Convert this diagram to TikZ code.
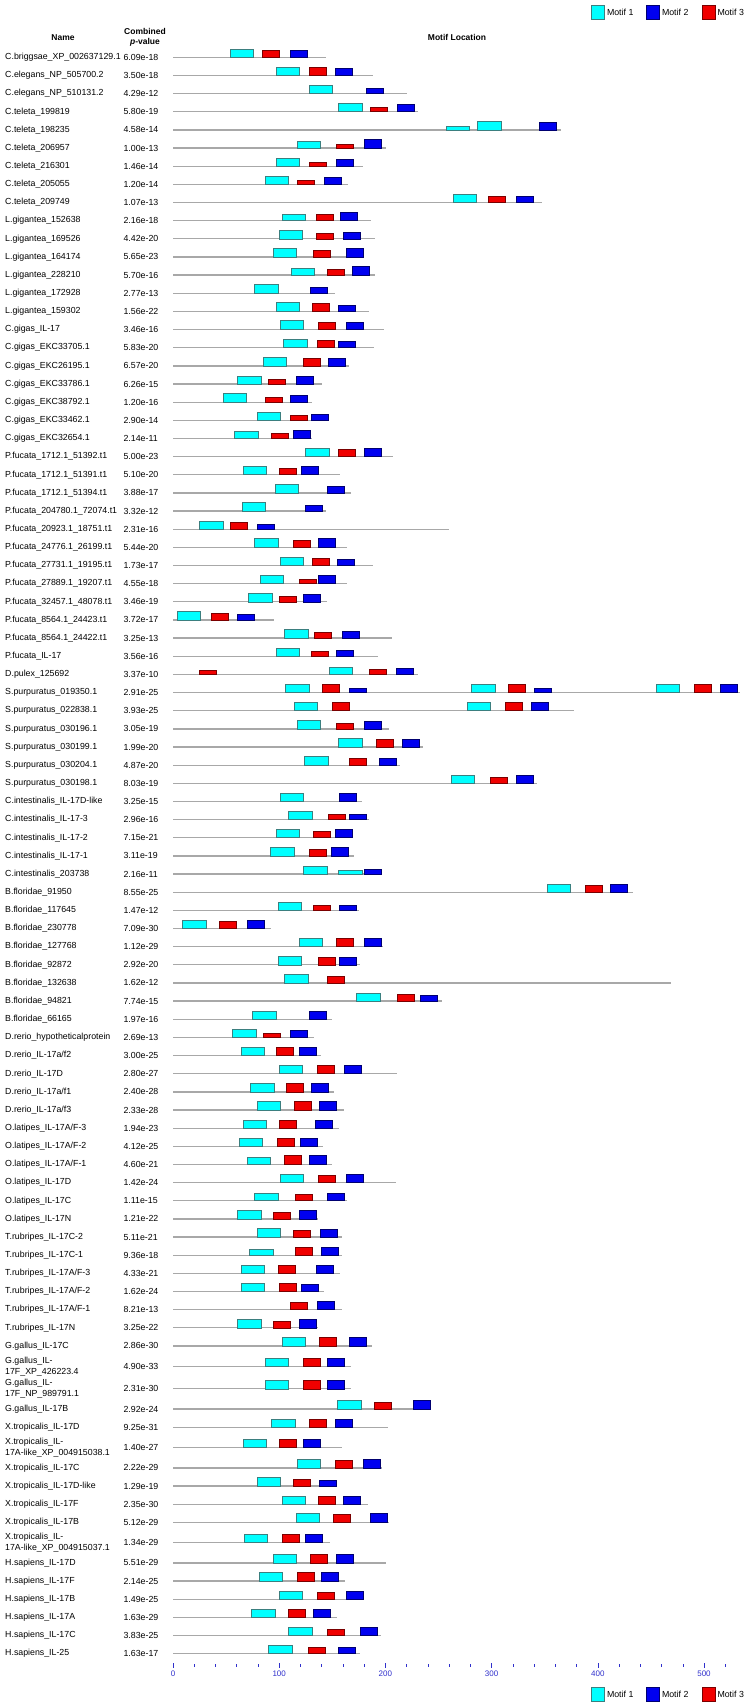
\documentclass[tikz,border=0pt]{standalone}
\usepackage{fontspec}
\setmainfont{Liberation Sans}
\usetikzlibrary{positioning}
\definecolor{mCyan}{HTML}{00FFFF}
\definecolor{mCyanRule}{HTML}{3B7F7F}
\definecolor{mBlue}{HTML}{0000F0}
\definecolor{mBlueRule}{HTML}{000070}
\definecolor{mRed}{HTML}{F00000}
\definecolor{mRedRule}{HTML}{7A0000}
\definecolor{seqGrey}{HTML}{A8A8A8}
\definecolor{axBlue}{HTML}{3030CC}

\begin{document}
\begin{tikzpicture}[x=1pt,y=-1pt,
  nm/.style={anchor=west,align=left,inner sep=0pt,font=\fontsize{8.8}{11}\selectfont},
  pv/.style={anchor=west,inner sep=0pt,font=\fontsize{8.8}{11}\selectfont},
  hd/.style={inner sep=0pt,align=center,font=\fontsize{8.5}{10}\selectfont\bfseries},
  sq/.style={seqGrey,line width=1.3pt},
  bx/.style={anchor=south west,inner sep=0pt,outer sep=0pt,line width=0.6pt},
  m1/.style={bx,draw=mCyanRule,fill=mCyan,minimum width=23.4pt},
  m2/.style={bx,draw=mBlueRule,fill=mBlue,minimum width=17pt},
  m3/.style={bx,draw=mRedRule,fill=mRed,minimum width=17pt},
  tk/.style={axBlue,line width=0.5pt},
  ax/.style={text=axBlue,inner sep=0pt,font=\fontsize{8}{9}\selectfont},
  lg/.style={line width=0.6pt,minimum width=13pt,minimum height=14pt,inner sep=0pt},
  lt/.style={inner sep=0pt,font=\fontsize{8.8}{11}\selectfont}]
\useasboundingbox (0,0) rectangle (750,1706);

% headers
\node[hd] (hName) at (63,37.3) {Name};
\node[hd] (hPval) at (145,37.3) {Combined\\\textit{p}-value};
\node[hd] (hLoc) at (457,37.3) {Motif Location};

% legends, top and bottom
\foreach \ly/\tag in {12/t,1694/b}{
  \node[lg,draw=mCyanRule,fill=mCyan] (\tag1) at (598,\ly) {};
  \node[lt,right=2pt of \tag1] (\tag1l) {Motif 1};
  \node[lg,draw=mBlueRule,fill=mBlue] (\tag2) at (653,\ly) {};
  \node[lt,right=2pt of \tag2] (\tag2l) {Motif 2};
  \node[lg,draw=mRedRule,fill=mRed] (\tag3) at (708.5,\ly) {};
  \node[lt,right=2pt of \tag3] (\tag3l) {Motif 3};
}

% sequences: name / p-value / length / {motif/start/height}
\foreach \nm/\pv/\len/\mot [count=\i] in {
 {C.briggsae\_XP\_002637129.1}/6.09e-18/144/{1/54/24,3/84/22,2/110/22},
 {C.elegans\_NP\_505700.2}/3.50e-18/188/{1/97/24,3/128/24,2/153/22},
 {C.elegans\_NP\_510131.2}/4.29e-12/220/{1/128/24,2/182/16},
 {C.teleta\_199819}/5.80e-19/231/{1/156/25,3/186/13,2/211/23},
 {C.teleta\_198235}/4.58e-14/365/{1/257/12,1/287/25,2/345/22},
 {C.teleta\_206957}/1.00e-13/201/{1/117/19,3/154/12,2/180/25},
 {C.teleta\_216301}/1.46e-14/179/{1/97/25,3/128/13,2/154/20},
 {C.teleta\_205055}/1.20e-14/165/{1/87/24,3/117/11,2/142/20},
 {C.teleta\_209749}/1.07e-13/347/{1/264/25,3/297/18,2/323/20},
 {L.gigantea\_152638}/2.16e-18/186/{1/103/20,3/135/20,2/158/24},
 {L.gigantea\_169526}/4.42e-20/190/{1/100/25,3/135/17,2/160/19},
 {L.gigantea\_164174}/5.65e-23/179/{1/94/26,3/132/20,2/163/26},
 {L.gigantea\_228210}/5.70e-16/190/{1/111/20,3/145/18,2/169/26},
 {L.gigantea\_172928}/2.77e-13/153/{1/77/26,2/129/18},
 {L.gigantea\_159302}/1.56e-22/185/{1/97/27,3/131/25,2/156/19},
 {C.gigas\_IL-17}/3.46e-16/199/{1/101/28,3/137/21,2/163/21},
 {C.gigas\_EKC33705.1}/5.83e-20/189/{1/104/26,3/136/22,2/156/20},
 {C.gigas\_EKC26195.1}/6.57e-20/166/{1/85/25,3/123/23,2/146/22},
 {C.gigas\_EKC33786.1}/6.26e-15/140/{1/61/24,3/90/15,2/116/22},
 {C.gigas\_EKC38792.1}/1.20e-16/131/{1/47/26,3/87/15,2/110/21},
 {C.gigas\_EKC33462.1}/2.90e-14/147/{1/79/24,3/110/16,2/130/19},
 {C.gigas\_EKC32654.1}/2.14e-11/131/{1/58/21,3/93/14,2/113/23},
 {P.fucata\_1712.1\_51392.t1}/5.00e-23/207/{1/125/25,3/156/22,2/180/26},
 {P.fucata\_1712.1\_51391.t1}/5.10e-20/157/{1/66/26,3/100/19,2/121/24},
 {P.fucata\_1712.1\_51394.t1}/3.88e-17/168/{1/96/26,2/145/20},
 {P.fucata\_204780.1\_72074.t1}/3.32e-12/144/{1/65/25,2/125/17},
 {P.fucata\_20923.1\_18751.t1}/2.31e-16/260/{1/25/25,3/54/21,2/79/15},
 {P.fucata\_24776.1\_26199.t1}/5.44e-20/164/{1/77/26,3/113/20,2/137/26},
 {P.fucata\_27731.1\_19195.t1}/1.73e-17/188/{1/101/26,3/131/22,2/155/20},
 {P.fucata\_27889.1\_19207.t1}/4.55e-18/164/{1/82/26,3/119/13,2/137/26},
 {P.fucata\_32457.1\_48078.t1}/3.46e-19/145/{1/71/26,3/100/18,2/123/22},
 {P.fucata\_8564.1\_24423.t1}/3.72e-17/95/{1/4/26,3/36/19,2/61/18},
 {P.fucata\_8564.1\_24422.t1}/3.25e-13/206/{1/105/26,3/133/16,2/159/20},
 {P.fucata\_IL-17}/3.56e-16/193/{1/97/25,3/130/14,2/154/19},
 {D.pulex\_125692}/3.37e-10/231/{3/25/13,1/147/21,3/185/14,2/210/18},
 {S.purpuratus\_019350.1}/2.91e-25/534/{1/106/26,3/141/26,2/166/12,1/281/26,3/316/26,2/340/12,1/455/26,3/491/26,2/515/26},
 {S.purpuratus\_022838.1}/3.93e-25/378/{1/114/26,3/150/26,1/277/26,3/313/26,2/337/24},
 {S.purpuratus\_030196.1}/3.05e-19/203/{1/117/26,3/154/18,2/180/24},
 {S.purpuratus\_030199.1}/1.99e-20/235/{1/156/26,3/191/24,2/216/22},
 {S.purpuratus\_030204.1}/4.87e-20/214/{1/124/26,3/166/20,2/194/22},
 {S.purpuratus\_030198.1}/8.03e-19/343/{1/262/24,3/299/19,2/323/24},
 {C.intestinalis\_IL-17D-like}/3.25e-15/178/{1/101/24,2/157/24},
 {C.intestinalis\_IL-17-3}/2.96e-16/185/{1/109/25,3/146/16,2/166/15},
 {C.intestinalis\_IL-17-2}/7.15e-21/168/{1/97/25,3/132/19,2/153/25},
 {C.intestinalis\_IL-17-1}/3.11e-19/170/{1/92/26,3/128/20,2/149/25},
 {C.intestinalis\_203738}/2.16e-11/197/{1/123/24,1/156/12,2/180/14},
 {B.floridae\_91950}/8.55e-25/433/{1/352/25,3/388/20,2/412/25},
 {B.floridae\_117645}/1.47e-12/175/{1/99/25,3/132/14,2/157/14},
 {B.floridae\_230778}/7.09e-30/92/{1/9/25,3/44/22,2/70/25},
 {B.floridae\_127768}/1.12e-29/198/{1/119/25,3/154/25,2/180/25},
 {B.floridae\_92872}/2.92e-20/176/{1/99/25,3/137/23,2/157/23},
 {B.floridae\_132638}/1.62e-12/469/{1/105/25,3/145/20},
 {B.floridae\_94821}/7.74e-15/253/{1/173/22,3/211/21,2/233/18},
 {B.floridae\_66165}/1.97e-16/150/{1/75/25,2/128/25},
 {D.rerio\_hypotheticalprotein}/2.69e-13/133/{1/56/24,3/85/13,2/110/20},
 {D.rerio\_IL-17a/f2}/3.00e-25/139/{1/64/25,3/97/25,2/119/25},
 {D.rerio\_IL-17D}/2.80e-27/211/{1/100/26,3/136/24,2/161/26},
 {D.rerio\_IL-17a/f1}/2.40e-28/152/{1/73/25,3/107/25,2/130/25},
 {D.rerio\_IL-17a/f3}/2.33e-28/161/{1/79/26,3/114/26,2/138/26},
 {O.latipes\_IL-17A/F-3}/1.94e-23/156/{1/66/25,3/100/24,2/134/25},
 {O.latipes\_IL-17A/F-2}/4.12e-25/141/{1/62/25,3/98/25,2/120/25},
 {O.latipes\_IL-17A/F-1}/4.60e-21/150/{1/70/21,3/105/26,2/128/26},
 {O.latipes\_IL-17D}/1.42e-24/210/{1/101/25,3/137/21,2/163/25},
 {O.latipes\_IL-17C}/1.11e-15/164/{1/77/22,3/115/18,2/145/21},
 {O.latipes\_IL-17N}/1.21e-22/137/{1/61/25,3/94/20,2/119/25},
 {T.rubripes\_IL-17C-2}/5.11e-21/159/{1/79/25,3/113/19,2/139/22},
 {T.rubripes\_IL-17C-1}/9.36e-18/159/{1/72/18,3/115/23,2/140/25},
 {T.rubripes\_IL-17A/F-3}/4.33e-21/157/{1/64/25,3/99/24,2/135/25},
 {T.rubripes\_IL-17A/F-2}/1.62e-24/142/{1/64/25,3/100/25,2/121/22},
 {T.rubripes\_IL-17A/F-1}/8.21e-13/159/{3/110/21,2/136/25},
 {T.rubripes\_IL-17N}/3.25e-22/137/{1/61/26,3/94/20,2/119/25},
 {G.gallus\_IL-17C}/2.86e-30/187/{1/103/26,3/138/25,2/166/25}}{
  \pgfmathsetmacro\y{57.3+(\i-1)*18.15}
  \node[nm] (n\i) at (5,\y) {\nm};
  \node[pv] (p\i) at (123.4,\y) {\pv};
  \begin{scope}[xshift=173pt,x=1.062pt]
    \draw[sq] (0,\y) -- (\len,\y);
    \foreach \mk/\ms/\mh [count=\j] in \mot {
      \pgfmathsetmacro\hh{\mh/3}
      \node[m\mk,minimum height=\hh pt] (b\i-\j) at (\ms,\y) {};
    }
  \end{scope}
}

% rows with two-line names sit a little further apart
\foreach \y/\nm/\pv/\len/\mot [count=\i from 73] in {
 1366.3/{G.gallus\_IL-\\17F\_XP\_426223.4}/4.90e-33/168/{1/87/24,3/123/24,2/145/23},
 1388.8/{G.gallus\_IL-\\17F\_NP\_989791.1}/2.31e-30/168/{1/87/25,3/123/25,2/145/25},
 1409.1/{G.gallus\_IL-17B}/2.92e-24/242/{1/155/25,3/190/19,2/226/25},
 1427.25/{X.tropicalis\_IL-17D}/9.25e-31/202/{1/93/25,3/128/25,2/153/25},
 1447.55/{X.tropicalis\_IL-\\17A-like\_XP\_004915038.1}/1.40e-27/159/{1/66/26,3/100/26,2/123/26},
 1467.85/{X.tropicalis\_IL-17C}/2.22e-29/197/{1/117/25,3/153/23,2/179/25},
 1486.0/{X.tropicalis\_IL-17D-like}/1.29e-19/154/{1/79/25,3/113/19,2/138/17},
 1504.15/{X.tropicalis\_IL-17F}/2.35e-30/184/{1/103/25,3/137/25,2/160/25},
 1522.3/{X.tropicalis\_IL-17B}/5.12e-29/203/{1/116/26,3/151/23,2/186/26},
 1542.6/{X.tropicalis\_IL-\\17A-like\_XP\_004915037.1}/1.34e-29/148/{1/67/24,3/103/24,2/125/24},
 1562.9/{H.sapiens\_IL-17D}/5.51e-29/201/{1/94/25,3/129/25,2/154/25},
 1581.05/{H.sapiens\_IL-17F}/2.14e-25/162/{1/81/25,3/117/25,2/140/25},
 1599.2/{H.sapiens\_IL-17B}/1.49e-25/180/{1/100/25,3/136/22,2/163/25},
 1617.35/{H.sapiens\_IL-17A}/1.63e-29/154/{1/74/24,3/109/24,2/132/24},
 1635.5/{H.sapiens\_IL-17C}/3.83e-25/196/{1/109/25,3/145/19,2/176/25},
 1653.65/{H.sapiens\_IL-25}/1.63e-17/176/{1/90/25,3/127/18,2/156/18}}{
  \node[nm] (n\i) at (5,\y) {\nm};
  \node[pv] (p\i) at (123.4,\y) {\pv};
  \begin{scope}[xshift=173pt,x=1.062pt]
    \draw[sq] (0,\y) -- (\len,\y);
    \foreach \mk/\ms/\mh [count=\j] in \mot {
      \pgfmathsetmacro\hh{\mh/3}
      \node[m\mk,minimum height=\hh pt] (b\i-\j) at (\ms,\y) {};
    }
  \end{scope}
}

% position axis
\begin{scope}[xshift=173pt,x=1.062pt]
  \foreach \t in {20,40,...,520} \draw[tk] (\t,1664) -- (\t,1667);
  \foreach \t in {0,100,...,500} {
    \draw[tk] (\t,1663) -- (\t,1667.5);
    \node[ax] (a\t) at (\t,1674) {\t};
  }
\end{scope}
\end{tikzpicture}
\end{document}
